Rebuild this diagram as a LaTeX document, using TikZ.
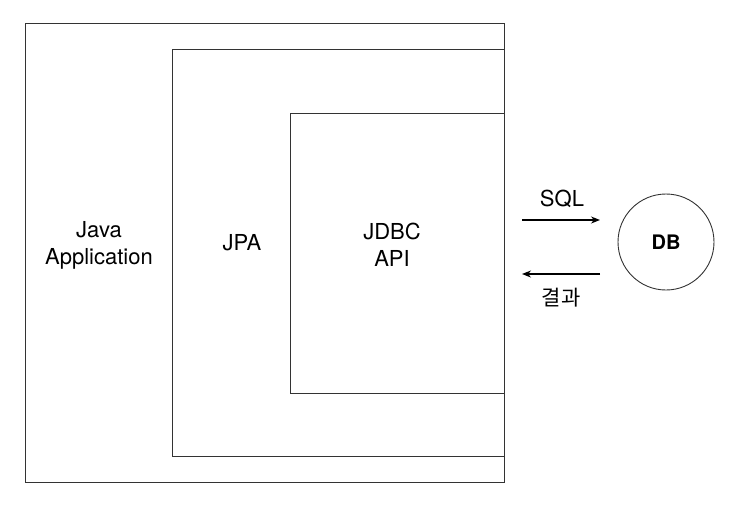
\documentclass[tikz,border=0pt]{standalone}
\usepackage{fontspec}
\setmainfont{TeX Gyre Heros}
\newfontfamily\kr{Noto Sans CJK KR}
\usetikzlibrary{arrows.meta}
\begin{document}
\begin{tikzpicture}[x=1pt, y=-1pt,
		box/.style = {draw=black!80, line width=0.9pt, rectangle, inner sep=0pt},
		lbl/.style = {align=center, font=\fontsize{22}{27}\selectfont, inner sep=0pt},
		flow/.style = {-{Stealth[length=9pt, width=7pt]}, line width=1.3pt}]
			\useasboundingbox (0,0) rectangle (753,515);
			\node[box, minimum width=479pt, minimum height=459pt] at (264.5,252.5) (app) {};
			\node[box, minimum width=332pt, minimum height=407pt] at (338,252.5) (jpa) {};
			\node[box, minimum width=214pt, minimum height=280pt] at (397,253) (jdbc) {};
			\node[lbl] at (99,245) (applbl) {Java\\Application};
			\node[lbl] at (242,243) (jpalbl) {JPA};
			\node[lbl] at (392,245) (jdbclbl) {JDBC\\API};
			\node[draw=black!80, line width=0.9pt, circle, minimum size=96pt, inner sep=0pt,
				font=\fontsize{20}{24}\selectfont\bfseries] at (666,242) (db) {DB};
			\coordinate (s1) at (522,220);
			\coordinate (s2) at (600,220);
			\coordinate (r1) at (600,274);
			\coordinate (r2) at (522,274);
			\draw[flow] (s1) -- (s2);
			\draw[flow] (r1) -- (r2);
			\node[lbl] at (562,199) (sql) {SQL};
			\node[lbl, font=\fontsize{21}{24}\selectfont\kr] at (561,298) (res) {결과};
		\end{tikzpicture}
\end{document}
